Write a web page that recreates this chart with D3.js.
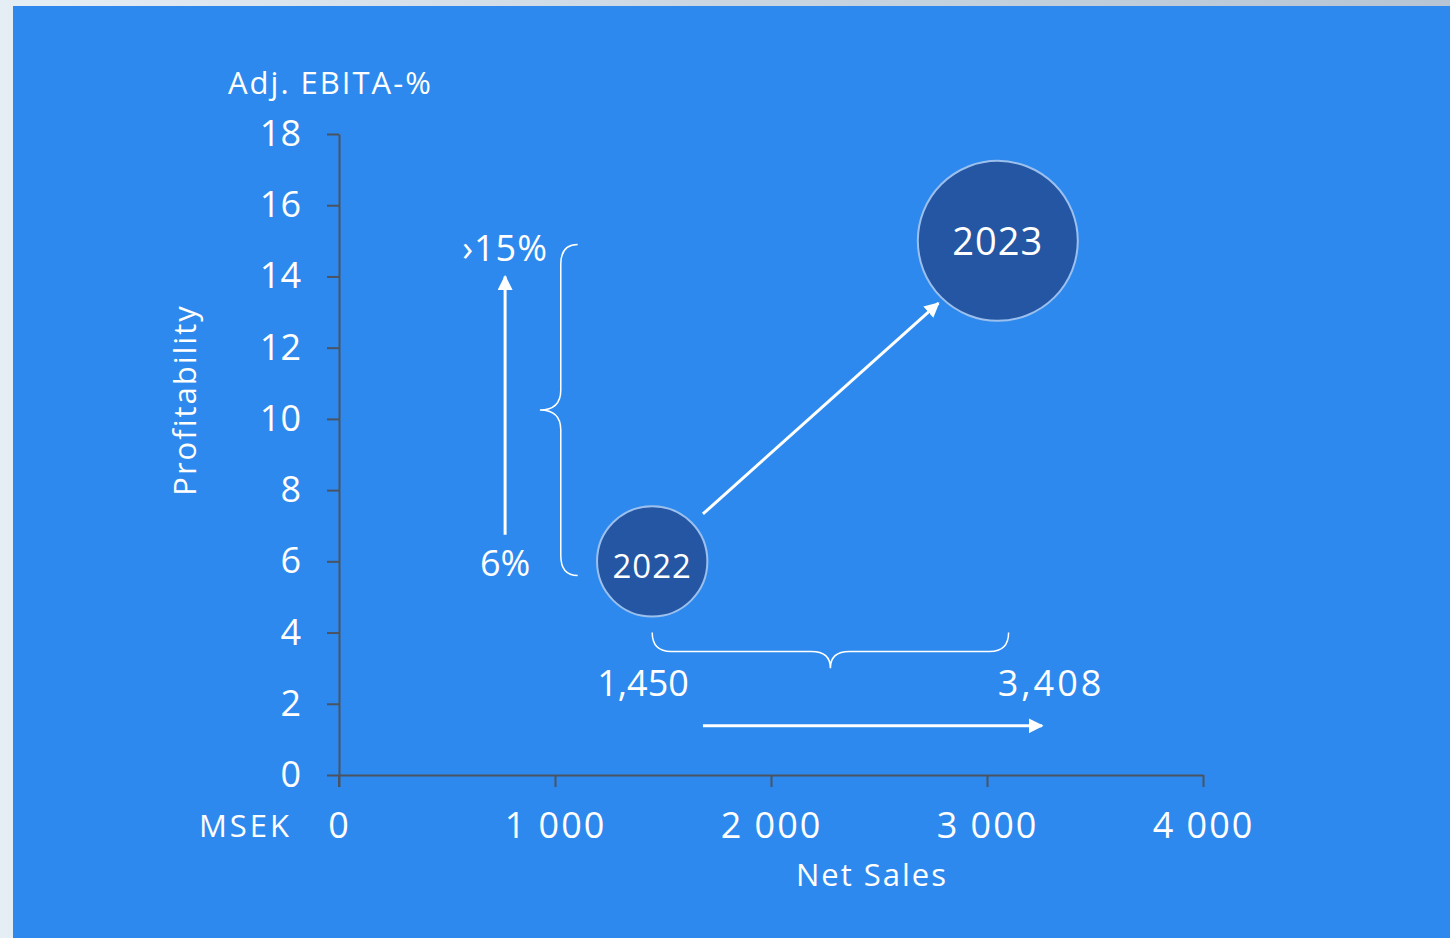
<!DOCTYPE html>
<html>
<head>
<meta charset="utf-8">
<script src="https://cdn.jsdelivr.net/npm/d3@7"></script>
<style>
  body { margin: 0; background: #dfe8f0; }
  svg { display: block; font-family: "Open Sans", sans-serif; }
</style>
</head>
<body>
<div class="chart"></div>
<script>
// values
var yTicks = [0, 2, 4, 6, 8, 10, 12, 14, 16, 18];
var xTicks = [0, 1000, 2000, 3000, 4000];
var years = ["2022", "2023"];
var netSales = [1450, 3050];      // where the bubbles sit on the x axis
var ebitaPct = [6, 15];
var salesLabels = ["1,450", "3,408"];
var pctLabels = ["6%", "\u203a15%"];

function fmtThousands(d) {
  // "1 000" style
  return d == 0 ? "0" : d3.format(",")(d).replace(",", " ");
}

function make_chart() {
  var W = 1450, H = 938;
  var svg = d3.select(".chart").append("svg")
              .attr("width", W).attr("height", H);

  // blurry photo-ish backdrop then the blue panel
  var defs = svg.append("defs");
  var g0 = defs.append("linearGradient").attr("id", "bk").attr("x1", 0).attr("x2", 1);
  g0.append("stop").attr("offset", "0").attr("stop-color", "#e6eef5");
  g0.append("stop").attr("offset", "0.5").attr("stop-color", "#c9d6e2");
  g0.append("stop").attr("offset", "1").attr("stop-color", "#b7c4d4");
  svg.append("rect").attr("width", W).attr("height", H).attr("fill", "url(#bk)");
  svg.append("rect").attr("x", 13).attr("y", 6).attr("width", W - 13).attr("height", H - 6)
     .attr("fill", "#2d89ed");

  var x = d3.scaleLinear().domain([0, 4000]).range([339, 1203]);
  var y = d3.scaleLinear().domain([0, 18]).range([775, 134]);
  var r = d3.scaleSqrt().domain([0, 3050]).range([0, 80]);

  var axisCol = "#4b5360";

  var yAxis = svg.append("g")
     .attr("transform", "translate(" + x(0) + ",0)")
     .call(d3.axisLeft(y).tickValues(yTicks).tickSize(12).tickSizeOuter(0).tickPadding(26));
  var xAxis = svg.append("g")
     .attr("transform", "translate(0," + y(0) + ")")
     .call(d3.axisBottom(x).tickValues(xTicks).tickFormat(fmtThousands)
             .tickSize(12).tickSizeOuter(0).tickPadding(25));

  [yAxis, xAxis].forEach(function(a) {
    a.selectAll("path, line").attr("stroke", axisCol).attr("stroke-width", 2);
    a.selectAll("text").attr("fill", "#fff").style("font-size", "36px")
     .style("font-family", "'Open Sans', sans-serif");
  });
  xAxis.selectAll("text").style("letter-spacing", "2px");
  // extend the y axis down to meet the 0 tick
  svg.append("line").attr("x1", x(0)).attr("x2", x(0))
     .attr("y1", y(0)).attr("y2", y(0) + 12)
     .attr("stroke", axisCol).attr("stroke-width", 2);

  // axis titles
  var ttl = function(sel) {
    return sel.attr("fill", "#fff").style("font-size", "31px").style("letter-spacing", "2px");
  };
  svg.append("text").attr("x", 228).attr("y", 94).text("Adj. EBITA-%").call(ttl);
  svg.append("text").attr("x", 292).attr("y", 837).attr("text-anchor", "end").text("MSEK")
     .call(ttl).style("letter-spacing", "3px");
  svg.append("text").attr("x", 872).attr("y", 886).attr("text-anchor", "middle").text("Net Sales")
     .call(ttl);
  svg.append("text").attr("transform", "translate(196,400) rotate(-90)")
     .attr("text-anchor", "middle").text("Profitability").call(ttl);

  // arrow marker
  defs.append("marker").attr("id", "arr")
      .attr("viewBox", "0 0 10 10").attr("refX", 9).attr("refY", 5)
      .attr("markerWidth", 5).attr("markerHeight", 5)
      .attr("markerUnits", "strokeWidth").attr("orient", "auto")
      .append("path").attr("d", "M0,0 L10,5 L0,10 Z").attr("fill", "#fff");

  var arrows = [
    [[769, 6.75], [769, 14.0]],                      // profitability lift
    [[1685, 1.38], [3255, 1.38]],                    // sales growth
    [[1685, 7.33], [2775, 13.25]]                    // 2022 -> 2023
  ];
  svg.selectAll(".arrow").data(arrows).enter().append("line")
     .attr("class", "arrow")
     .attr("x1", function(d) { return x(d[0][0]); })
     .attr("y1", function(d) { return y(d[0][1]); })
     .attr("x2", function(d) { return x(d[1][0]); })
     .attr("y2", function(d) { return y(d[1][1]); })
     .attr("stroke", "#fff").attr("stroke-width", 3)
     .attr("marker-end", "url(#arr)");

  // braces
  var bx0 = x(930), bx1 = x(1105), bxm = (bx0 + bx1) / 2 + 2;
  var by0 = y(14.9), by1 = y(5.6), bym = (by0 + by1) / 2;
  var vb = "M" + bx1 + "," + by0 + " Q" + bxm + "," + by0 + " " + bxm + "," + (by0 + 20) +
           " L" + bxm + "," + (bym - 20) + " Q" + bxm + "," + bym + " " + bx0 + "," + bym +
           " Q" + bxm + "," + bym + " " + bxm + "," + (bym + 20) +
           " L" + bxm + "," + (by1 - 20) + " Q" + bxm + "," + by1 + " " + bx1 + "," + by1;
  var hx0 = x(1450), hx1 = x(3100), hxm = (hx0 + hx1) / 2;
  var hy0 = y(4.0), hy1 = y(3.0), hym = hy0 + 19;
  var hb = "M" + hx0 + "," + hy0 + " Q" + hx0 + "," + hym + " " + (hx0 + 19) + "," + hym +
           " L" + (hxm - 19) + "," + hym + " Q" + hxm + "," + hym + " " + hxm + "," + hy1 +
           " Q" + hxm + "," + hym + " " + (hxm + 19) + "," + hym +
           " L" + (hx1 - 19) + "," + hym + " Q" + hx1 + "," + hym + " " + hx1 + "," + hy0;
  svg.selectAll(".brace").data([vb, hb]).enter().append("path")
     .attr("class", "brace").attr("d", function(d) { return d; })
     .attr("fill", "none").attr("stroke", "#fff").attr("stroke-width", 1.5);

  // value labels
  var lab = function(sel) {
    return sel.attr("text-anchor", "middle").attr("fill", "#fff").style("font-size", "36px");
  };
  svg.append("text").attr("x", x(769)).attr("y", 261).text(pctLabels[1]).call(lab)
     .style("letter-spacing", "1px");
  svg.append("text").attr("x", x(769)).attr("y", 576).text(pctLabels[0]).call(lab);
  svg.append("text").attr("x", 643).attr("y", 696).text(salesLabels[0]).call(lab);
  svg.append("text").attr("x", 1051).attr("y", 696).text(salesLabels[1]).call(lab)
     .style("letter-spacing", "3px");

  // bubbles
  var data = years.map(function(yr, i) { return {year: yr, s: netSales[i], p: ebitaPct[i]}; });
  var b = svg.selectAll(".bubble").data(data).enter().append("g").attr("class", "bubble");
  b.append("circle")
   .attr("cx", function(d) { return x(d.s); })
   .attr("cy", function(d) { return y(d.p); })
   .attr("r", function(d) { return r(d.s); })
   .attr("fill", "#2456a3")
   .attr("stroke", "#9cc0ee").attr("stroke-width", 2);
  b.append("text")
   .attr("x", function(d) { return x(d.s); })
   .attr("y", function(d, i) { return y(d.p) + (i == 0 ? 5 : 0); })
   .attr("dy", "0.36em").attr("text-anchor", "middle")
   .attr("fill", "#fff")
   .style("letter-spacing", "1px")
   .style("font-size", function(d, i) { return i == 0 ? "33px" : "38px"; })
   .text(function(d) { return d.year; });
}

make_chart();
</script>
</body>
</html>
